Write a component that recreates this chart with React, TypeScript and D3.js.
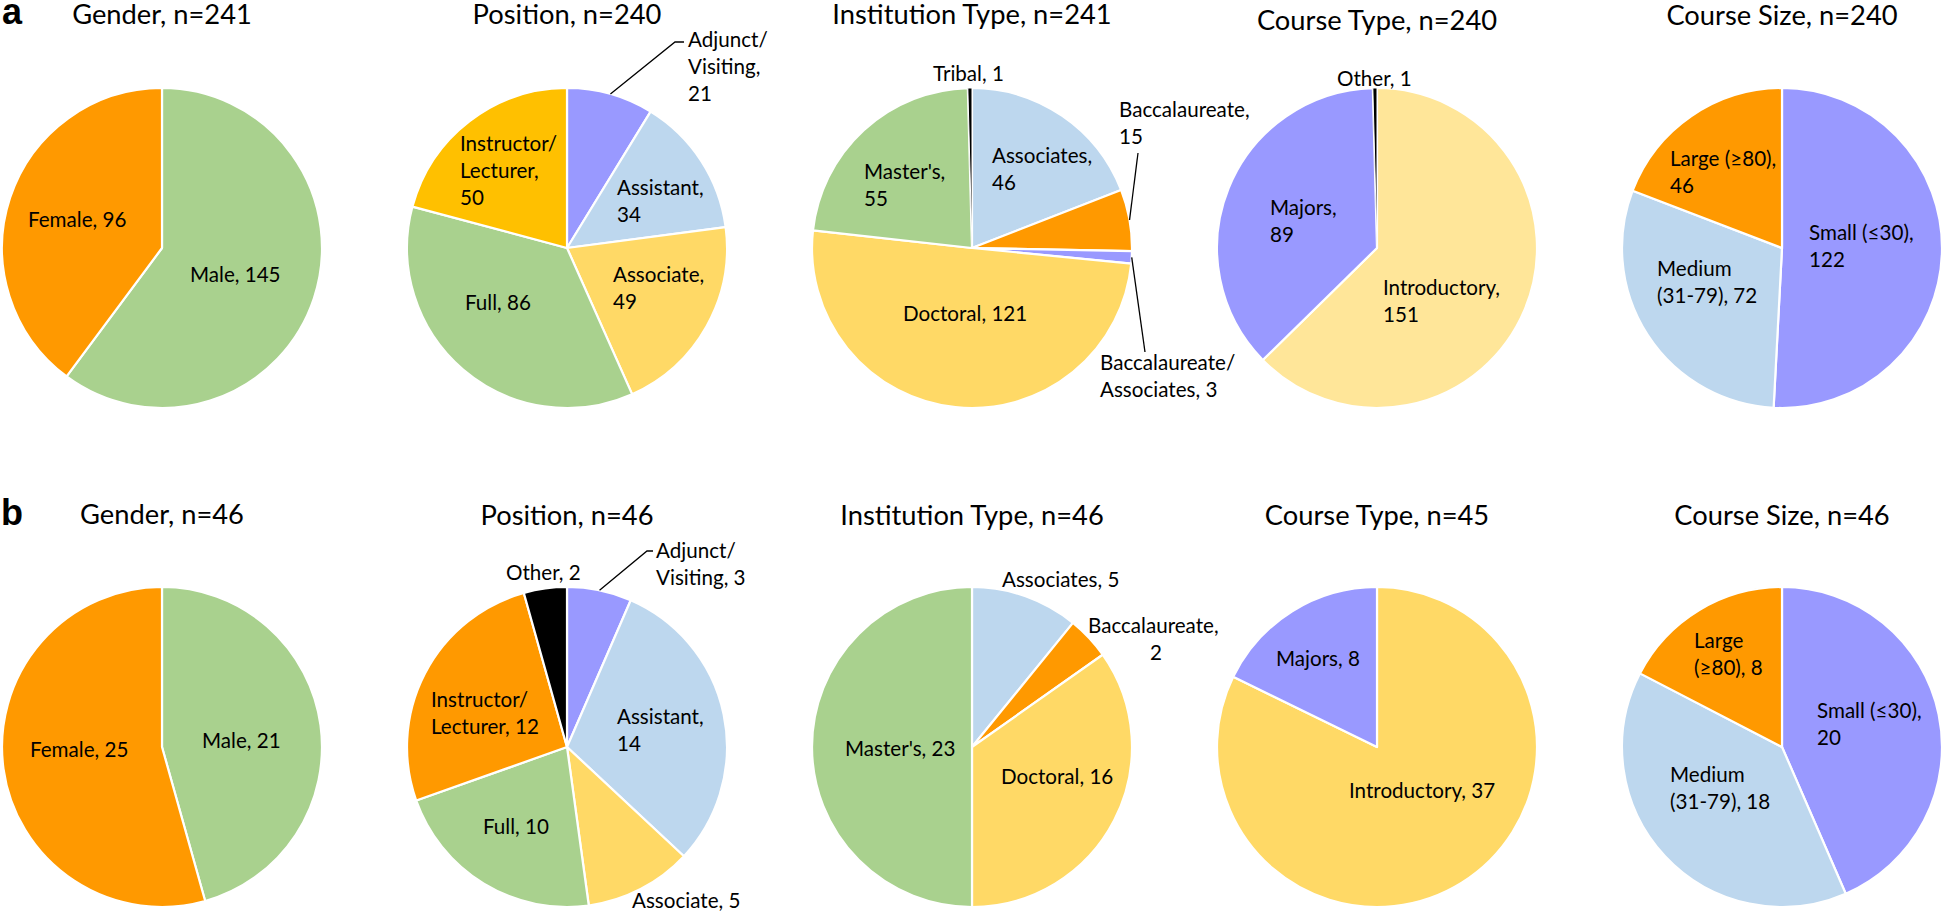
import React from "react";
import * as d3 from "d3";

// ---------- data ----------
const genderCats = ["Male", "Female"];
const genderValsA = [145, 96];
const genderValsB = [21, 25];

const positionCatsA = ["Adjunct/Visiting", "Assistant", "Associate", "Full", "Instructor/Lecturer"];
const positionValsA = [21, 34, 49, 86, 50];
const positionCatsB = ["Adjunct/Visiting", "Assistant", "Associate", "Full", "Instructor/Lecturer", "Other"];
const positionValsB = [3, 14, 5, 10, 12, 2];

const institutionCatsA = ["Associates", "Baccalaureate", "Baccalaureate/Associates", "Doctoral", "Master's", "Tribal"];
const institutionValsA = [46, 15, 3, 121, 55, 1];
const institutionCatsB = ["Associates", "Baccalaureate", "Doctoral", "Master's"];
const institutionValsB = [5, 2, 16, 23];

const courseTypeCatsA = ["Introductory", "Majors", "Other"];
const courseTypeValsA = [151, 89, 1];
const courseTypeCatsB = ["Introductory", "Majors"];
const courseTypeValsB = [37, 8];

const courseSizeCats = ["Small (≤30)", "Medium (31-79)", "Large (≥80)"];
const courseSizeValsA = [122, 72, 46];
const courseSizeValsB = [20, 18, 8];

// ---------- styles ----------
const ORANGE = "#FF9900";
const GREEN = "#A9D18E";
const LBLUE = "#BDD7EE";
const LYELLOW = "#FFD966";
const PALEYELLOW = "#FFE699";
const GOLD = "#FFC000";
const PURPLE = "#9999FF";
const BLACK = "#000000";

const FONT = "Lato, 'Open Sans', sans-serif";
const LABEL_SIZE = 20.6;
const TITLE_SIZE = 27.3;
const LINE_H = 27;
const R = 160;

const colX = d3.scaleLinear().domain([0, 4]).range([162, 1782]);
const rowY = d3.scaleLinear().domain([0, 1]).range([248, 747]);

type Lbl = { t: string[]; dx: number; dy: number; ldx?: number[]; leader?: [number, number][] };

type PanelSpec = {
  col: number;
  row: number;
  title: string;
  titleDy: number;
  cats: string[];
  vals: number[];
  colors: string[];
  labels: Lbl[];
};

const panels: PanelSpec[] = [
  {
    col: 0, row: 0, title: "Gender, n=241", titleDy: -224,
    cats: genderCats, vals: genderValsA, colors: [GREEN, ORANGE],
    labels: [
      { t: ["Male, {v}"], dx: 28, dy: 34 },
      { t: ["Female, {v}"], dx: -134, dy: -21 },
    ],
  },
  {
    col: 1, row: 0, title: "Position, n=240", titleDy: -224,
    cats: positionCatsA, vals: positionValsA, colors: [PURPLE, LBLUE, LYELLOW, GREEN, GOLD],
    labels: [
      { t: ["Adjunct/", "Visiting,", "{v}"], dx: 121, dy: -201, leader: [[108, -206], [117, -206]] },
      { t: ["Assistant,", "{v}"], dx: 50, dy: -53 },
      { t: ["Associate,", "{v}"], dx: 46, dy: 34 },
      { t: ["Full, {v}"], dx: -102, dy: 62 },
      { t: ["Instructor/", "Lecturer,", "{v}"], dx: -107, dy: -97 },
    ],
  },
  {
    col: 2, row: 0, title: "Institution Type, n=241", titleDy: -224,
    cats: institutionCatsA, vals: institutionValsA, colors: [LBLUE, ORANGE, PURPLE, LYELLOW, GREEN, BLACK],
    labels: [
      { t: ["Associates,", "{v}"], dx: 20, dy: -85 },
      { t: ["Baccalaureate,", "{v}"], dx: 147, dy: -131, leader: [[166, -95]] },
      { t: ["Baccalaureate/", "Associates, {v}"], dx: 128, dy: 122, leader: [[173, 104]] },
      { t: ["Doctoral, {v}"], dx: -69, dy: 73 },
      { t: ["Master's,", "{v}"], dx: -108, dy: -69 },
      { t: ["Tribal, {v}"], dx: -39, dy: -167 },
    ],
  },
  {
    col: 3, row: 0, title: "Course Type, n=240", titleDy: -218,
    cats: courseTypeCatsA, vals: courseTypeValsA, colors: [PALEYELLOW, PURPLE, BLACK],
    labels: [
      { t: ["Introductory,", "{v}"], dx: 6, dy: 47 },
      { t: ["Majors,", "{v}"], dx: -107, dy: -33 },
      { t: ["Other, {v}"], dx: -40, dy: -162 },
    ],
  },
  {
    col: 4, row: 0, title: "Course Size, n=240", titleDy: -223,
    cats: courseSizeCats, vals: courseSizeValsA, colors: [PURPLE, LBLUE, ORANGE],
    labels: [
      { t: ["Small (≤30),", "{v}"], dx: 27, dy: -8 },
      { t: ["Medium", "(31-79), {v}"], dx: -125, dy: 28 },
      { t: ["Large (≥80),", "{v}"], dx: -112, dy: -82 },
    ],
  },
  {
    col: 0, row: 1, title: "Gender, n=46", titleDy: -223,
    cats: genderCats, vals: genderValsB, colors: [GREEN, ORANGE],
    labels: [
      { t: ["Male, {v}"], dx: 40, dy: 1 },
      { t: ["Female, {v}"], dx: -132, dy: 10 },
    ],
  },
  {
    col: 1, row: 1, title: "Position, n=46", titleDy: -222,
    cats: positionCatsB, vals: positionValsB, colors: [PURPLE, LBLUE, LYELLOW, GREEN, ORANGE, BLACK],
    labels: [
      { t: ["Adjunct/", "Visiting, {v}"], dx: 89, dy: -189, leader: [[80, -196], [86, -196]] },
      { t: ["Assistant,", "{v}"], dx: 50, dy: -23 },
      { t: ["Associate, {v}"], dx: 65, dy: 161 },
      { t: ["Full, {v}"], dx: -84, dy: 87 },
      { t: ["Instructor/", "Lecturer, {v}"], dx: -136, dy: -40 },
      { t: ["Other, {v}"], dx: -61, dy: -167 },
    ],
  },
  {
    col: 2, row: 1, title: "Institution Type, n=46", titleDy: -222,
    cats: institutionCatsB, vals: institutionValsB, colors: [LBLUE, ORANGE, LYELLOW, GREEN],
    labels: [
      { t: ["Associates, {v}"], dx: 30, dy: -160 },
      { t: ["Baccalaureate,", "{v}"], dx: 116, dy: -114, ldx: [0, 62] },
      { t: ["Doctoral, {v}"], dx: 29, dy: 37 },
      { t: ["Master's, {v}"], dx: -127, dy: 9 },
    ],
  },
  {
    col: 3, row: 1, title: "Course Type, n=45", titleDy: -222,
    cats: courseTypeCatsB, vals: courseTypeValsB, colors: [LYELLOW, PURPLE],
    labels: [
      { t: ["Introductory, {v}"], dx: -28, dy: 51 },
      { t: ["Majors, {v}"], dx: -101, dy: -81 },
    ],
  },
  {
    col: 4, row: 1, title: "Course Size, n=46", titleDy: -222,
    cats: courseSizeCats, vals: courseSizeValsB, colors: [PURPLE, LBLUE, ORANGE],
    labels: [
      { t: ["Small (≤30),", "{v}"], dx: 35, dy: -29 },
      { t: ["Medium", "(31-79), {v}"], dx: -112, dy: 35 },
      { t: ["Large", "(≥80), {v}"], dx: -88, dy: -99 },
    ],
  },
];

const pieGen = d3
  .pie<number>()
  .sort(null)
  .value((d) => d)
  .startAngle(0)
  .endAngle(2 * Math.PI);

const arcGen = d3.arc<d3.PieArcDatum<number>>().innerRadius(0).outerRadius(R);

function Panel({ p }: { p: PanelSpec }) {
  const cx = colX(p.col);
  const cy = rowY(p.row);
  const arcs = pieGen(p.vals);
  const total = d3.sum(p.vals);
  return (
    <g transform={`translate(${cx},${cy})`}>
      <text
        x={0}
        y={p.titleDy}
        textAnchor="middle"
        fontFamily={FONT}
        fontSize={TITLE_SIZE}
        fill="#000"
      >
        {p.title}
      </text>
      {arcs.map((a, i) => (
        <path
          key={i}
          d={arcGen(a) || ""}
          fill={p.colors[i]}
          stroke="#fff"
          strokeWidth={p.vals[i] / total < 0.01 ? 1 : 2.2}
          strokeLinejoin="round"
        />
      ))}
      {arcs.map((a, i) => {
        const lb = p.labels[i];
        if (!lb.leader) return null;
        const mid = (a.startAngle + a.endAngle) / 2;
        const sx = Math.sin(mid) * R;
        const sy = -Math.cos(mid) * R;
        const pts: [number, number][] = [[sx, sy], ...lb.leader];
        return (
          <path
            key={"l" + i}
            d={d3.line()(pts) || ""}
            fill="none"
            stroke="#000"
            strokeWidth={1.3}
          />
        );
      })}
      {arcs.map((a, i) => {
        const lb = p.labels[i];
        return (
          <text
            key={"t" + i}
            x={lb.dx}
            y={lb.dy}
            fontFamily={FONT}
            fontSize={LABEL_SIZE}
            fill="#000"
          >
            {lb.t.map((line, j) => (
              <tspan
                key={j}
                x={lb.dx + (lb.ldx ? lb.ldx[j] : 0)}
                y={lb.dy + j * LINE_H}
              >
                {line.replace("{v}", String(p.vals[i]))}
              </tspan>
            ))}
          </text>
        );
      })}
    </g>
  );
}

export default function App() {
  return (
    <svg
      width={1946}
      height={915}
      viewBox="0 0 1946 915"
      style={{ position: "absolute", left: 0, top: 0, background: "#fff" }}
    >
      <rect width={1946} height={915} fill="#fff" />
      <text x={2} y={24} fontFamily="'Liberation Sans', Arial, sans-serif" fontWeight="bold" fontSize={36}>
        a
      </text>
      <text x={1} y={525} fontFamily="'Liberation Sans', Arial, sans-serif" fontWeight="bold" fontSize={36}>
        b
      </text>
      {panels.map((p, k) => (
        <Panel key={k} p={p} />
      ))}
    </svg>
  );
}
